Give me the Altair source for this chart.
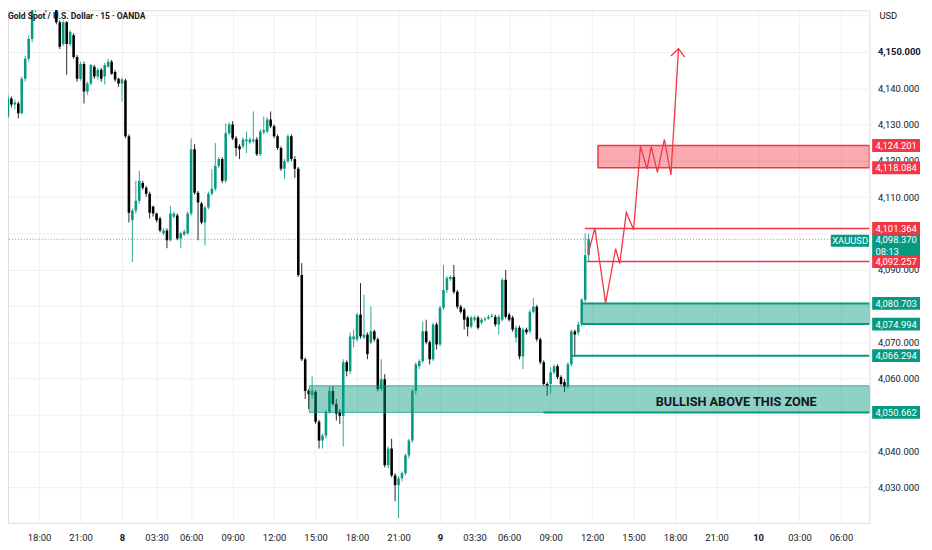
import json
import altair as alt
import pandas as pd

# ---------------- data (15-minute bars, index 0 = first bar of day 8) ----------------
bar_index = list(range(-35, 136))
opens = [
    4132.8, 4131.1, 4132.2, 4137.2, 4135.5, 4135.8, 4133.1, 4142.6, 4148.1, 4153.6,
    4161.7, 4164.8, 4166.4, 4165.3, 4163.7, 4165.0, 4163.1, 4158.2, 4152.2, 4158.2,
    4152.2, 4154.6, 4148.6, 4142.6, 4146.7, 4139.1, 4141.3, 4145.9, 4143.2, 4145.1,
    4143.2, 4145.9, 4147.3, 4144.5, 4142.6, 4141.3, 4142.1, 4126.8, 4103.6, 4106.3,
    4109.0, 4113.9, 4112.6, 4110.9, 4107.4, 4105.5, 4104.1, 4100.0, 4100.8, 4098.1,
    4104.6, 4104.9, 4098.6, 4099.7, 4100.0, 4105.5, 4123.2, 4111.2, 4108.2, 4103.0,
    4107.1, 4110.9, 4112.3, 4118.6, 4120.5, 4114.5, 4127.6, 4130.0, 4126.2, 4124.0,
    4124.0, 4125.4, 4125.1, 4125.4, 4125.9, 4121.8, 4127.9, 4128.1, 4131.4, 4129.5,
    4126.8, 4123.5, 4117.8, 4119.9, 4126.8, 4120.5, 4117.8, 4088.5, 4065.3, 4056.6,
    4055.5, 4056.3, 4048.1, 4042.9, 4044.3, 4050.8, 4056.6, 4053.0, 4050.8, 4049.7,
    4064.5, 4062.0, 4070.8, 4070.8, 4077.6, 4071.3, 4072.1, 4069.9, 4073.0, 4070.8,
    4057.1, 4059.8, 4036.1, 4040.7, 4033.3, 4030.6, 4032.5, 4033.9, 4038.8, 4042.9,
    4056.6, 4063.4, 4064.8, 4073.0, 4070.0, 4065.3, 4074.9, 4069.4, 4079.5, 4084.4,
    4087.4, 4088.0, 4083.9, 4079.8, 4079.0, 4076.8, 4074.3, 4076.2, 4076.8, 4075.4,
    4076.2, 4076.5, 4077.0, 4077.0, 4074.9, 4076.2, 4087.2, 4077.6, 4076.8, 4071.3,
    4074.0, 4066.1, 4073.5, 4073.0, 4078.4, 4079.8, 4070.8, 4064.5, 4058.5, 4058.5,
    4061.7, 4063.4, 4060.4, 4059.0, 4057.7, 4063.9, 4073.0, 4072.7, 4074.9, 4081.7, 4094.0,
]
highs = [
    4133.1, 4132.8, 4138.2, 4137.7, 4136.9, 4136.3, 4143.2, 4148.9, 4154.6, 4163.1,
    4165.9, 4167.5, 4167.2, 4166.1, 4165.9, 4165.6, 4164.5, 4158.7, 4158.7, 4158.5,
    4156.0, 4155.2, 4149.2, 4147.3, 4147.3, 4141.8, 4146.7, 4146.4, 4145.6, 4145.6,
    4147.0, 4148.1, 4147.8, 4145.1, 4142.9, 4142.9, 4142.6, 4127.3, 4106.8, 4114.5,
    4117.2, 4114.5, 4113.1, 4111.5, 4107.6, 4105.7, 4104.6, 4101.4, 4101.4, 4107.6,
    4106.0, 4105.5, 4100.5, 4101.1, 4106.0, 4126.2, 4124.6, 4111.7, 4108.7, 4107.6,
    4111.5, 4117.7, 4124.9, 4121.0, 4121.0, 4130.3, 4130.6, 4130.9, 4126.8, 4124.6,
    4126.5, 4128.1, 4126.5, 4133.6, 4126.5, 4128.7, 4132.2, 4132.0, 4133.6, 4130.0,
    4127.3, 4124.0, 4120.5, 4127.3, 4127.3, 4121.3, 4118.3, 4091.8, 4065.8, 4057.1,
    4060.6, 4056.8, 4048.6, 4044.8, 4051.4, 4057.9, 4057.9, 4054.4, 4051.6, 4065.3,
    4065.0, 4072.7, 4073.5, 4078.1, 4086.3, 4083.1, 4072.7, 4079.8, 4073.5, 4071.3,
    4065.3, 4061.2, 4041.3, 4043.4, 4033.9, 4033.1, 4034.4, 4039.3, 4043.4, 4057.1,
    4064.5, 4065.3, 4075.7, 4076.2, 4070.5, 4075.4, 4075.4, 4080.1, 4091.3, 4088.2,
    4088.5, 4091.3, 4084.4, 4080.3, 4079.5, 4077.3, 4077.3, 4077.3, 4077.3, 4076.8,
    4077.0, 4077.6, 4077.9, 4077.6, 4077.6, 4087.7, 4089.9, 4078.1, 4077.3, 4074.6,
    4074.6, 4074.0, 4074.0, 4079.0, 4082.2, 4080.3, 4071.3, 4065.0, 4059.0, 4063.1,
    4063.9, 4063.9, 4060.9, 4059.8, 4064.5, 4073.5, 4073.5, 4075.7, 4082.2, 4100.0, 4100.0,
]
lows = [
    4124.9, 4130.6, 4131.7, 4134.7, 4134.2, 4131.7, 4132.8, 4141.8, 4147.3, 4152.7,
    4160.9, 4162.0, 4164.2, 4160.9, 4162.8, 4162.3, 4157.6, 4150.8, 4151.6, 4143.7,
    4151.6, 4148.1, 4141.8, 4142.1, 4135.8, 4138.2, 4140.7, 4142.6, 4142.4, 4141.8,
    4141.0, 4145.6, 4143.7, 4141.8, 4140.4, 4136.3, 4126.2, 4103.0, 4092.1, 4105.5,
    4108.2, 4112.0, 4110.1, 4104.1, 4104.6, 4103.0, 4100.3, 4099.5, 4095.9, 4097.8,
    4104.1, 4098.1, 4095.9, 4099.2, 4099.5, 4104.9, 4110.7, 4098.1, 4102.5, 4096.7,
    4106.6, 4110.4, 4111.7, 4118.0, 4113.9, 4113.9, 4127.0, 4125.7, 4121.3, 4120.5,
    4123.5, 4122.1, 4124.6, 4124.9, 4121.3, 4121.3, 4127.3, 4127.6, 4129.0, 4126.2,
    4123.0, 4117.2, 4115.0, 4119.4, 4119.9, 4115.3, 4088.0, 4064.8, 4054.4, 4051.6,
    4054.4, 4047.5, 4040.7, 4040.7, 4043.4, 4050.3, 4052.5, 4048.4, 4047.5, 4041.3,
    4060.6, 4061.2, 4068.6, 4070.2, 4071.0, 4070.8, 4065.3, 4069.4, 4070.2, 4056.5,
    4056.5, 4035.5, 4035.3, 4032.8, 4026.2, 4021.6, 4031.7, 4033.3, 4038.0, 4042.3,
    4055.7, 4062.6, 4064.2, 4069.4, 4063.9, 4064.8, 4068.0, 4068.9, 4079.0, 4083.6,
    4086.9, 4083.3, 4079.2, 4077.9, 4073.5, 4071.6, 4073.8, 4075.7, 4073.5, 4074.9,
    4075.7, 4076.2, 4076.8, 4074.3, 4072.1, 4075.7, 4076.5, 4075.7, 4072.9, 4069.9,
    4065.3, 4062.6, 4072.1, 4072.4, 4077.9, 4070.2, 4063.9, 4058.0, 4055.2, 4055.7,
    4061.2, 4059.8, 4058.0, 4056.3, 4057.1, 4063.4, 4065.9, 4071.9, 4074.3, 4081.1, 4092.1,
]
closes = [
    4131.1, 4132.2, 4137.2, 4135.5, 4136.1, 4133.1, 4142.6, 4148.1, 4153.6, 4161.7,
    4164.8, 4166.4, 4165.3, 4163.7, 4165.0, 4163.1, 4158.2, 4151.4, 4158.2, 4152.2,
    4155.5, 4148.6, 4142.6, 4146.7, 4139.1, 4141.3, 4146.4, 4143.2, 4145.1, 4142.6,
    4146.4, 4147.3, 4144.0, 4142.4, 4141.3, 4142.4, 4126.8, 4105.7, 4106.3, 4109.0,
    4114.5, 4112.6, 4110.9, 4105.7, 4105.5, 4103.6, 4100.8, 4100.8, 4098.1, 4105.5,
    4105.5, 4098.6, 4100.0, 4100.5, 4105.5, 4123.2, 4111.2, 4108.5, 4103.0, 4107.1,
    4110.9, 4112.3, 4118.6, 4120.5, 4114.5, 4127.6, 4130.0, 4126.2, 4123.5, 4123.2,
    4125.9, 4125.9, 4125.9, 4125.9, 4121.8, 4128.1, 4128.4, 4131.4, 4129.5, 4126.8,
    4123.5, 4117.8, 4119.9, 4126.8, 4120.5, 4117.8, 4088.5, 4065.3, 4056.6, 4055.7,
    4056.6, 4048.1, 4042.9, 4044.3, 4050.8, 4056.6, 4053.0, 4050.3, 4049.7, 4064.5,
    4062.0, 4071.6, 4071.6, 4077.6, 4071.6, 4072.1, 4066.7, 4073.0, 4070.8, 4057.1,
    4059.8, 4036.1, 4040.7, 4033.3, 4030.6, 4032.5, 4033.9, 4038.8, 4042.9, 4056.6,
    4063.9, 4064.8, 4073.0, 4070.0, 4065.3, 4074.9, 4069.4, 4079.5, 4084.4, 4087.7,
    4088.0, 4083.9, 4079.8, 4078.4, 4076.2, 4074.3, 4076.8, 4076.8, 4074.0, 4076.2,
    4076.5, 4077.0, 4077.3, 4074.9, 4077.0, 4087.2, 4077.0, 4076.2, 4073.5, 4074.0,
    4066.1, 4073.5, 4072.7, 4078.4, 4079.8, 4070.8, 4064.5, 4058.5, 4058.0, 4061.7,
    4063.4, 4060.4, 4058.5, 4057.7, 4063.9, 4073.0, 4072.1, 4074.9, 4081.7, 4094.0, 4098.4,
]

# time axis (bar index -> label)
time_ticks = [-24, -12, 0, 10, 20, 32, 44, 56, 68, 80, 92, 102, 112, 124, 136, 148, 160, 172, 184, 196, 208]
time_labels = ["18:00", "21:00", "8", "03:30", "06:00", "09:00", "12:00", "15:00", "18:00", "21:00",
               "9", "03:30", "06:00", "09:00", "12:00", "15:00", "18:00", "21:00", "10", "03:00", "06:00"]
day_ticks = [0, 92, 184]
price_ticks = [4030, 4040, 4050, 4060, 4070, 4080, 4090, 4100, 4110, 4120, 4130, 4140, 4150, 4160]
covered_ticks = [4050, 4080, 4100, 4160]   # labels hidden behind price tags / not shown

# zones drawn on the chart
bull_zone_start = [54.2, 133.1]
bull_zone_low = [4050.662, 4074.994]
bull_zone_high = [4058.0, 4080.703]
bear_zone_start = [137.7]
bear_zone_low = [4118.084]
bear_zone_high = [4124.201]

# horizontal levels
teal_level_price = [4050.662, 4066.294, 4074.994, 4080.703]
teal_level_start = [121.9, 130.2, 133.1, 133.1]
red_level_price = [4092.257, 4101.364]
red_level_start = [134.5, 133.9]

# price tags on the scale
red_tags = [4124.201, 4118.084, 4101.364, 4092.257]
teal_tags = [4080.703, 4074.994, 4066.294, 4050.662]
last_price = [4098.37]
countdown = ["08:13"]

# projected path (bar index, price)
path_idx = [134.9, 136.8, 139.9, 142.8, 144.0, 145.9, 148.0, 150.0, 151.9, 153.1, 154.9, 156.9, 158.8, 161.0]
path_price = [4094.5, 4101.5, 4080.8, 4095.8, 4091.7, 4105.8, 4101.0, 4124.0, 4117.7, 4123.9,
              4116.8, 4125.9, 4116.1, 4150.9]
arrow_idx = [158.8, 161.0, 162.8]
arrow_price = [4148.9, 4150.9, 4148.6]

note_idx = [177.7]
note_price = [4053.5]
note_text = ["BULLISH ABOVE THIS ZONE"]

# ---------------- chart ----------------
W, H = 869, 517
TEAL, RED, DOWN = "#089981", "#f23645", "#000000"
TXT = "#131722"
GRID = "#eef0f3"
FONT = "Roboto"
FS = 9.5

xs = alt.Scale(domain=[-32.98, 216.24], nice=False, zero=False)
ys = alt.Scale(domain=[4020.22, 4161.47], nice=False, zero=False)

x_axis = alt.Axis(
    values=time_ticks,
    labelExpr=f"{json.dumps(time_labels)}[indexof({json.dumps(time_ticks)}, datum.value)]",
    grid=True, gridColor=GRID, ticks=False, tickSize=0, domain=False,
    labelFont=FONT, labelFontSize=FS, labelColor=TXT, labelPadding=10,
    labelOverlap=False, labelFlush=False, title=None,
    labelFontWeight={"condition": {"test": f"indexof({json.dumps(day_ticks)}, datum.value) >= 0",
                                   "value": "bold"}, "value": "normal"},
)
y_axis = alt.Axis(
    orient="right", values=price_ticks,
    labelExpr=f"indexof({json.dumps(covered_ticks)}, datum.value) >= 0 ? '' : format(datum.value, ',.3f')",
    grid=True, gridColor=GRID, ticks=False, tickSize=0, domain=False,
    labelFont=FONT, labelFontSize=FS, labelColor=TXT, labelPadding=8,
    labelOverlap=False, labelFlush=False, title=None,
    labelFontWeight={"condition": {"test": "datum.value === 4150", "value": "bold"}, "value": "normal"},
)


def X(f):
    return alt.X(f, type="quantitative", scale=xs, axis=x_axis)


def Y(f):
    return alt.Y(f, type="quantitative", scale=ys, axis=y_axis)


candles = pd.DataFrame({"i": bar_index, "open": opens, "high": highs, "low": lows, "close": closes})
candles["dir"] = ["up" if c >= o else "down" for o, c in zip(opens, closes)]
cscale = alt.Scale(domain=["up", "down"], range=[TEAL, DOWN])

wicks = alt.Chart(candles).mark_rule(strokeWidth=1, clip=True, opacity=0.85).encode(
    x=X("i"), y=Y("low"), y2="high", color=alt.Color("dir:N", scale=cscale, legend=None))
bodies = alt.Chart(candles).mark_rule(strokeWidth=2.6, clip=True).encode(
    x=X("i"), y=Y("open"), y2="close", color=alt.Color("dir:N", scale=cscale, legend=None))

price_line = alt.Chart(pd.DataFrame({"p": last_price})).mark_rule(
    color="#9598a1", strokeDash=[1, 2], strokeWidth=1).encode(y=Y("p"))

bull_df = pd.DataFrame({"start": bull_zone_start, "low": bull_zone_low, "high": bull_zone_high})
bull_rect = alt.Chart(bull_df).mark_rect(
    clip=True, fill=TEAL, fillOpacity=0.45, stroke=TEAL, strokeOpacity=0.7, strokeWidth=1).encode(
    x=X("start"), x2=alt.value(W), y=Y("low"), y2="high")
bear_df = pd.DataFrame({"start": bear_zone_start, "low": bear_zone_low, "high": bear_zone_high})
bear_rect = alt.Chart(bear_df).mark_rect(
    clip=True, fill=RED, fillOpacity=0.42, stroke=RED, strokeWidth=1.5).encode(
    x=X("start"), x2=alt.value(W), y=Y("low"), y2="high")

teal_lv = alt.Chart(pd.DataFrame({"start": teal_level_start, "p": teal_level_price})).mark_rule(
    color=TEAL, strokeWidth=2, clip=True).encode(x=X("start"), x2=alt.value(W), y=Y("p"))
red_lv = alt.Chart(pd.DataFrame({"start": red_level_start, "p": red_level_price})).mark_rule(
    color=RED, strokeWidth=1.5, clip=True).encode(x=X("start"), x2=alt.value(W), y=Y("p"))

path_df = pd.DataFrame({"i": path_idx, "p": path_price, "k": list(range(len(path_idx)))})
path = alt.Chart(path_df).mark_line(color=RED, strokeWidth=1.3, clip=True).encode(
    x=X("i"), y=Y("p"), order="k:Q")
arrow_df = pd.DataFrame({"i": arrow_idx, "p": arrow_price, "k": list(range(len(arrow_idx)))})
arrow = alt.Chart(arrow_df).mark_line(color=RED, strokeWidth=1.3, clip=True).encode(
    x=X("i"), y=Y("p"), order="k:Q")

note = alt.Chart(pd.DataFrame({"i": note_idx, "p": note_price, "t": note_text})).mark_text(
    font=FONT, fontSize=12.8, fontWeight="bold", color=TXT, align="center", baseline="middle").encode(
    x=X("i"), y=Y("p"), text="t:N")

# price tags
cur_df = pd.DataFrame({"p": last_price, "t": [f"{v:,.3f}" for v in last_price], "c": countdown})
cur_box = alt.Chart(cur_df).mark_rect(color=TEAL, yOffset=-6.3, y2Offset=20).encode(
    x=alt.value(W + 2.7), x2=alt.value(W + 51), y=Y("p"), y2="p")
cur_txt = alt.Chart(cur_df).mark_text(font=FONT, fontSize=FS, color="white", align="left",
                                      baseline="middle", dy=1).encode(
    x=alt.value(W + 6), y=Y("p"), text="t:N")
cur_cd = alt.Chart(cur_df).mark_text(font=FONT, fontSize=FS, color="white", align="left",
                                     baseline="middle", dy=12.5).encode(
    x=alt.value(W + 6), y=Y("p"), text="c:N")
sym_box = alt.Chart(cur_df).mark_rect(color=TEAL, yOffset=-4.5, y2Offset=7.5).encode(
    x=alt.value(W - 39), x2=alt.value(W - 0.5), y=Y("p"), y2="p")
sym_txt = alt.Chart(cur_df).mark_text(font=FONT, fontSize=FS, color="white", align="center",
                                      baseline="middle", dy=1.5, text="XAUUSD").encode(
    x=alt.value(W - 19.5), y=Y("p"))

tag_df = pd.DataFrame({
    "p": red_tags + teal_tags,
    "t": [f"{v:,.3f}" for v in red_tags + teal_tags],
    "kind": ["red"] * len(red_tags) + ["teal"] * len(teal_tags),
})
red_box = alt.Chart(tag_df).transform_filter("datum.kind == 'red'").mark_rect(
    color=RED, yOffset=-6.5, y2Offset=6.5).encode(
    x=alt.value(W + 2.7), x2=alt.value(W + 51), y=Y("p"), y2="p")
teal_box = alt.Chart(tag_df).transform_filter("datum.kind == 'teal'").mark_rect(
    color=TEAL, yOffset=-6.5, y2Offset=6.5).encode(
    x=alt.value(W + 2.7), x2=alt.value(W + 51), y=Y("p"), y2="p")
tag_txt = alt.Chart(tag_df).mark_text(font=FONT, fontSize=FS, color="white", align="left",
                                      baseline="middle", dy=0.5).encode(
    x=alt.value(W + 6), y=Y("p"), text="t:N")

title_txt = alt.Chart(pd.DataFrame({"t": ["Gold Spot / U.S. Dollar · 15 · OANDA"]})).mark_text(
    font=FONT, fontSize=8.6, fontWeight="bold", color=TXT, align="left", baseline="middle").encode(
    x=alt.value(0), y=alt.value(5.3), text="t:N")
usd_txt = alt.Chart(pd.DataFrame({"t": ["USD"]})).mark_text(
    font=FONT, fontSize=FS, color=TXT, align="left", baseline="middle").encode(
    x=alt.value(W + 10), y=alt.value(6), text="t:N")

chart = alt.layer(
    price_line, wicks, bodies, bull_rect, bear_rect, teal_lv, red_lv, path, arrow, note,
    sym_box, sym_txt, cur_box, cur_txt, cur_cd, teal_box, red_box, tag_txt, title_txt, usd_txt,
).properties(
    width=W, height=H,
    autosize=alt.AutoSizeParams(type="none"),
    padding={"left": 0, "top": 0, "right": 55, "bottom": 21},
).configure_view(stroke=None).configure(background="white")

chart.save("out.html", embed_options={"renderer": "svg", "actions": False})
